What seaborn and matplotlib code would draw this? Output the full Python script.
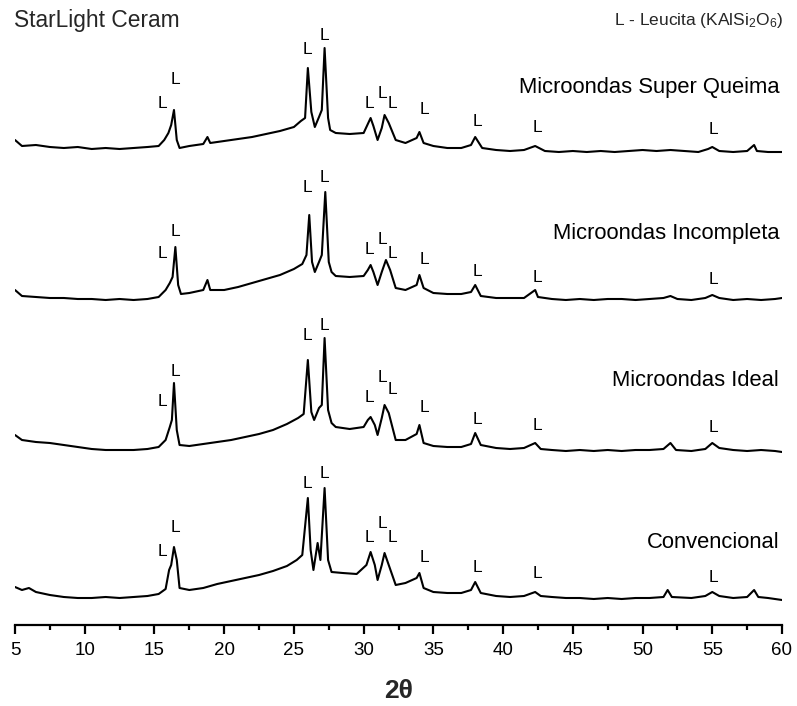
import numpy as np
import pandas as pd
import seaborn as sns
import matplotlib
matplotlib.use("Agg")
import matplotlib.pyplot as plt
from matplotlib.ticker import MultipleLocator

# ---------------- data ----------------
samples = ["Microondas Super Queima", "Microondas Incompleta", "Microondas Ideal", "Convencional"]

theta_sq = [5.0, 5.5, 6.5, 7.5, 8.5, 9.5, 10.5, 11.5, 12.5, 13.5,
            14.5, 15.3, 15.7, 16.0, 16.2, 16.4, 16.6, 16.8, 17.5, 18.5,
            18.8, 19.0, 20.0, 21.0, 22.0, 23.0, 24.0, 25.0, 25.5, 25.8,
            26.0, 26.25, 26.5, 26.8, 27.0, 27.2, 27.45, 27.6, 28.0, 29.0,
            30.0, 30.3, 30.5, 30.7, 31.0, 31.3, 31.5, 31.8, 32.3, 33.0,
            33.8, 34.0, 34.3, 35.0, 36.0, 37.0, 37.7, 38.0, 38.5, 39.5,
            40.5, 41.5, 42.3, 43.0, 44.0, 45.0, 46.0, 47.0, 48.0, 49.0,
            50.0, 51.0, 52.0, 53.0, 54.0, 54.7, 55.0, 55.5, 56.5, 57.5,
            58.0, 58.2, 59.0, 60.0]
int_sq = [17, 11, 12, 10, 9, 10, 8, 9, 8, 9,
          10, 11, 17, 24, 32, 47, 17, 9, 11, 13,
          20, 14, 16, 18, 20, 23, 26, 30, 36, 39,
          89, 45, 30, 40, 47, 109, 39, 27, 24, 23,
          24, 33, 39, 31, 17, 29, 42, 34, 17, 14,
          19, 25, 14, 11, 9, 9, 12, 20, 9, 7,
          6, 7, 11, 6, 5, 6, 5, 6, 5, 6,
          7, 6, 7, 6, 5, 8, 10, 6, 5, 6,
          12, 6, 5, 5]

theta_inc = [5.0, 5.5, 6.5, 7.5, 8.5, 9.5, 10.5, 11.5, 12.5, 13.5,
             14.5, 15.3, 15.8, 16.1, 16.3, 16.5, 16.7, 16.9, 17.5, 18.5,
             18.8, 19.0, 20.0, 21.0, 22.0, 23.0, 24.0, 25.0, 25.6, 25.9,
             26.1, 26.3, 26.5, 26.8, 27.0, 27.25, 27.5, 27.7, 28.0, 29.0,
             30.0, 30.3, 30.5, 30.7, 31.0, 31.3, 31.6, 31.9, 32.3, 33.0,
             33.8, 34.0, 34.3, 35.0, 36.0, 37.0, 37.7, 38.0, 38.4, 39.5,
             40.5, 41.5, 42.3, 42.5, 43.5, 44.5, 45.5, 46.5, 47.5, 48.5,
             49.5, 50.5, 51.5, 52.0, 52.5, 53.5, 54.5, 55.0, 55.5, 56.5,
             57.5, 58.5, 59.5, 60.0]
int_inc = [14, 8, 7, 6, 6, 5, 5, 4, 5, 4,
           5, 7, 14, 21, 27, 57, 19, 10, 11, 14,
           24, 14, 14, 17, 21, 25, 29, 35, 40, 49,
           89, 42, 32, 42, 49, 112, 42, 32, 28, 27,
           28, 34, 39, 32, 19, 32, 44, 34, 16, 14,
           19, 29, 16, 11, 10, 10, 12, 19, 8, 6,
           6, 6, 14, 7, 5, 4, 5, 4, 5, 5,
           4, 5, 6, 8, 5, 4, 6, 9, 6, 4,
           5, 4, 5, 6]

theta_ide = [5.0, 5.5, 6.5, 7.5, 8.5, 9.5, 10.5, 11.5, 12.5, 13.5,
             14.5, 15.3, 15.8, 16.1, 16.25, 16.4, 16.6, 16.8, 17.5, 18.5,
             19.5, 20.5, 21.5, 22.5, 23.5, 24.5, 25.3, 25.7, 26.0, 26.25,
             26.45, 26.8, 27.0, 27.2, 27.45, 27.7, 28.0, 29.0, 30.0, 30.3,
             30.5, 30.8, 31.0, 31.3, 31.5, 31.8, 32.3, 33.0, 33.8, 34.0,
             34.3, 35.0, 36.0, 37.0, 37.7, 38.0, 38.4, 39.5, 40.5, 41.5,
             42.3, 42.7, 43.5, 44.5, 45.5, 46.5, 47.5, 48.5, 49.5, 50.5,
             51.5, 52.0, 52.4, 53.5, 54.5, 55.0, 55.5, 56.5, 57.5, 58.5,
             59.5, 60.0]
int_ide = [20, 15, 13, 12, 10, 8, 6, 5, 5, 5,
           6, 8, 15, 28, 35, 72, 25, 10, 9, 11,
           13, 15, 18, 21, 25, 31, 37, 41, 95, 43,
           35, 47, 50, 117, 45, 32, 28, 26, 28, 35,
           38, 30, 20, 37, 50, 42, 15, 15, 21, 30,
           12, 9, 8, 8, 11, 22, 10, 7, 6, 7,
           12, 6, 5, 4, 5, 4, 5, 4, 5, 5,
           6, 12, 5, 4, 6, 12, 7, 5, 4, 5,
           4, 3]

theta_con = [5.0, 5.5, 6.0, 6.5, 7.5, 8.5, 9.5, 10.5, 11.5, 12.5,
             13.5, 14.5, 15.3, 15.8, 16.05, 16.2, 16.4, 16.6, 16.8, 17.5,
             18.5, 19.5, 20.5, 21.5, 22.5, 23.5, 24.5, 25.2, 25.6, 26.0,
             26.2, 26.4, 26.7, 26.9, 27.2, 27.45, 27.7, 28.5, 29.5, 30.2,
             30.5, 30.8, 31.0, 31.3, 31.5, 31.8, 32.3, 33.0, 33.8, 34.0,
             34.3, 35.0, 36.0, 37.0, 37.7, 38.0, 38.4, 39.5, 40.5, 41.5,
             42.3, 42.7, 43.5, 44.5, 45.5, 46.5, 47.5, 48.5, 49.5, 50.5,
             51.5, 51.8, 52.1, 53.5, 54.5, 55.0, 55.5, 56.5, 57.5, 58.0,
             58.3, 59.0, 60.0]
int_con = [16, 13, 15, 11, 8, 6, 5, 5, 6, 5,
           6, 7, 9, 14, 33, 38, 56, 43, 15, 13,
           15, 19, 22, 25, 28, 32, 37, 43, 48, 105,
           53, 33, 60, 43, 115, 43, 31, 30, 29, 38,
           51, 38, 23, 38, 50, 38, 18, 20, 25, 30,
           15, 11, 10, 10, 13, 21, 10, 7, 6, 7,
           11, 7, 6, 5, 5, 4, 5, 4, 5, 5,
           6, 13, 6, 5, 7, 11, 7, 5, 6, 13,
           6, 5, 3]

# Leucite peak markers ("L") : 2theta and intensity level of the label
l_theta = [15.55, 16.48, 25.95, 27.17, 30.4, 31.33, 32.05, 34.34, 38.14, 42.45, 55.07]
l_int_sq = [54, 77, 107, 122, 54, 64, 53, 47, 35, 30, 27]
l_int_inc = [51, 72, 116, 127, 54, 64, 51, 44, 32, 26, 24]
l_int_ide = [53, 83, 120, 130, 58, 77, 65, 47, 35, 30, 27]
l_int_con = [51, 76, 120, 130, 66, 80, 66, 46, 35, 30, 26]

x_ticks = [5, 10, 15, 20, 25, 30, 35, 40, 45, 50, 55, 60]

# ---------------- layout ----------------
offsets = [468, 321, 170, 22]
name_y = [538, 392, 245, 82]

sns.set_style("white")
plt.rcParams["font.family"] = ["Liberation Sans", "DejaVu Sans"]
plt.rcParams["mathtext.fontset"] = "custom"
plt.rcParams["mathtext.rm"] = "Liberation Sans"
plt.rcParams["mathtext.it"] = "Liberation Sans"

thetas = [theta_sq, theta_inc, theta_ide, theta_con]
ints = [int_sq, int_inc, int_ide, int_con]
l_ints = [l_int_sq, l_int_inc, l_int_ide, l_int_con]

frames = []
for name, th, it, off in zip(samples, thetas, ints, offsets):
    frames.append(pd.DataFrame({"theta": th, "y": np.array(it) + off, "sample": name}))
df = pd.concat(frames, ignore_index=True)

fig = plt.figure(figsize=(7.97, 7.06), dpi=100)
ax = fig.add_axes([15 / 797, 81 / 706, 767 / 797, 625 / 706])

sns.lineplot(data=df, x="theta", y="y", hue="sample", palette=["black"] * 4,
             estimator=None, sort=False, legend=False, linewidth=1.5, ax=ax)

for name, li, off, ny in zip(samples, l_ints, offsets, name_y):
    for t, h in zip(l_theta, li):
        ax.text(t, h + off, "L", ha="center", va="center", fontsize=12.5, color="black")
    ax.text(59.8, ny, name, ha="right", va="center", fontsize=15.8, color="black")

ax.set_xlim(5, 60)
ax.set_ylim(0, 625)
ax.set_xticks(x_ticks)
ax.set_xticklabels([str(v) for v in x_ticks])
ax.xaxis.set_minor_locator(MultipleLocator(2.5))
ax.set_yticks([])
ax.set_ylabel("")
ax.set_xlabel("2θ", fontsize=19, fontweight="bold", labelpad=15)
for s in ["left", "top", "right"]:
    ax.spines[s].set_visible(False)
ax.spines["bottom"].set_linewidth(1.6)
ax.spines["bottom"].set_color("black")
ax.tick_params(axis="x", which="major", direction="out", length=6.5, width=1.6,
               labelsize=13.5, pad=5.5, colors="black", bottom=True)
ax.tick_params(axis="x", which="minor", direction="out", length=3.8, width=1.6,
               colors="black", bottom=True)

fig.text(14 / 797, 1 - 20 / 706, "StarLight Ceram", ha="left", va="center", fontsize=16.4)
fig.text(783 / 797, 1 - 20 / 706, r"L - Leucita (KAlSi$_2$O$_6$)", ha="right", va="center",
         fontsize=12.5)

fig.savefig("out.png", dpi=100, facecolor="white")
